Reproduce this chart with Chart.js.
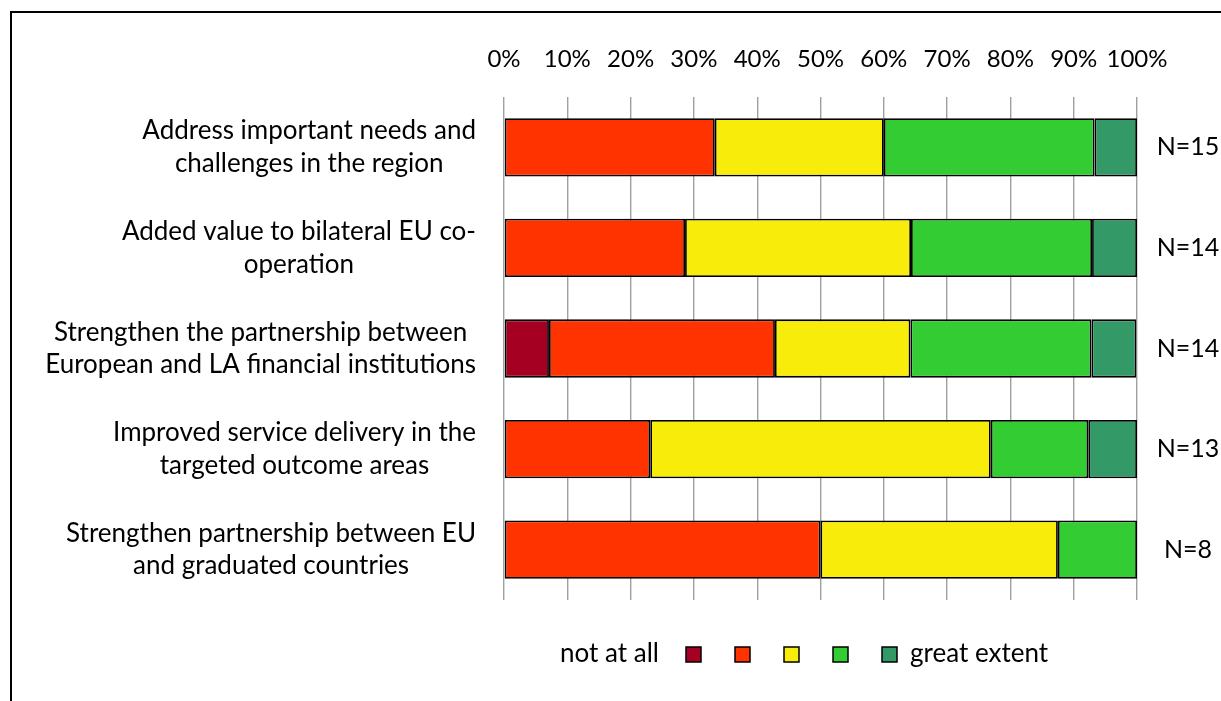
<!DOCTYPE html>
<html>
<head>
<meta charset="utf-8">
<script src="https://cdn.jsdelivr.net/npm/chart.js@4/dist/chart.umd.min.js"></script>
<style>
html,body{margin:0;padding:0;background:#fff;overflow:hidden;}
#frame{position:absolute;left:10px;top:11px;width:1300px;height:800px;border:2px solid #000;box-sizing:border-box;}
#wrap{position:absolute;left:0;top:0;width:1221px;height:701px;}
</style>
</head>
<body>
<div id="frame"></div>
<div id="wrap"><canvas id="c" width="1221" height="701"></canvas></div>
<script>
const categories = [
  ["Address important needs and", "challenges in the region"],
  ["Added value to bilateral EU co-", "operation"],
  ["Strengthen the partnership between", "European and LA financial institutions"],
  ["Improved service delivery in the", "targeted outcome areas"],
  ["Strengthen partnership between EU", "and graduated countries"]
];
const nLabels = ["N=15", "N=14", "N=14", "N=13", "N=8"];
const notAtAll = [0, 0, 7.1, 0, 0];
const level2 = [33.3, 28.6, 35.7, 23.1, 50.0];
const level3 = [26.7, 35.7, 21.4, 53.8, 37.5];
const level4 = [33.3, 28.6, 28.6, 15.4, 12.5];
const greatExtent = [6.7, 7.1, 7.1, 7.7, 0];
const tickValues = [0, 10, 20, 30, 40, 50, 60, 70, 80, 90, 100];
const legendStart = "not at all";
const legendEnd = "great extent";

const FONT = "Lato";
const TXT = "#000";

const seriesColors = ["#A50021", "#FF3300", "#F8EC0A", "#33CC33", "#339966"];
const seriesData = [notAtAll, level2, level3, level4, greatExtent];

const datasets = seriesData.map((d, i) => ({
  label: "s" + i,
  data: d,
  backgroundColor: seriesColors[i],
  borderColor: "#000",
  borderWidth: 1.8,
  borderSkipped: false,
  barPercentage: 0.58,
  categoryPercentage: 1.0
}));

const labelPlugin = {
  id: "labelPlugin",
  afterDraw(chart) {
    const ctx = chart.ctx;
    const y = chart.scales.y;
    const area = chart.chartArea;
    ctx.save();
    ctx.fillStyle = TXT;
    ctx.textBaseline = "middle";
    const lh = 32.5;
    categories.forEach((lines, i) => {
      ctx.font = "26px " + FONT;
      const cy = y.getPixelForValue(i);
      let widest = 0;
      lines.forEach(l => { widest = Math.max(widest, ctx.measureText(l).width); });
      const cx = area.left - 28 - widest / 2;
      ctx.textAlign = "center";
      lines.forEach((l, k) => {
        const ly = cy + (k - (lines.length - 1) / 2) * lh;
        ctx.fillText(l, cx, ly);
      });
      ctx.font = "25px " + FONT;
      ctx.fillText(nLabels[i], area.right + 51, cy);
    });
    // legend
    const ly = 655;
    ctx.font = "26px " + FONT;
    ctx.textAlign = "right";
    ctx.fillText(legendStart, 659, ly - 1);
    seriesColors.forEach((c, i) => {
      const bx = 686 + i * 49;
      ctx.fillStyle = c;
      ctx.fillRect(bx, ly - 8, 15, 15);
      ctx.strokeStyle = "#000";
      ctx.lineWidth = 1.5;
      ctx.strokeRect(bx, ly - 8, 15, 15);
    });
    ctx.fillStyle = TXT;
    ctx.textAlign = "left";
    ctx.fillText(legendEnd, 910, ly - 1);
    ctx.restore();
  }
};

new Chart(document.getElementById("c"), {
  type: "bar",
  data: { labels: categories, datasets },
  options: {
    indexAxis: "y",
    responsive: false,
    animation: false,
    layout: { padding: { left: 0, right: 84, top: 0, bottom: 101 } },
    plugins: { legend: { display: false }, tooltip: { enabled: false } },
    scales: {
      x: {
        position: "top",
        stacked: true,
        min: 0,
        max: 100,
        afterBuildTicks(scale) { scale.ticks = tickValues.map(v => ({ value: v })); },
        afterFit(scale) { scale.height = 97; },
        grid: { color: "#a0a0a0", lineWidth: 1.4, drawTicks: false },
        border: { display: false },
        ticks: {
          autoSkip: false,
          padding: 23,
          color: TXT,
          font: { family: FONT, size: 24 },
          callback: v => v + "%",
          maxRotation: 0,
          minRotation: 0
        }
      },
      y: {
        stacked: true,
        afterFit(scale) { scale.width = 504; },
        grid: { display: false },
        border: { display: false },
        ticks: { display: false }
      }
    }
  },
  plugins: [labelPlugin]
});
</script>
</body>
</html>
